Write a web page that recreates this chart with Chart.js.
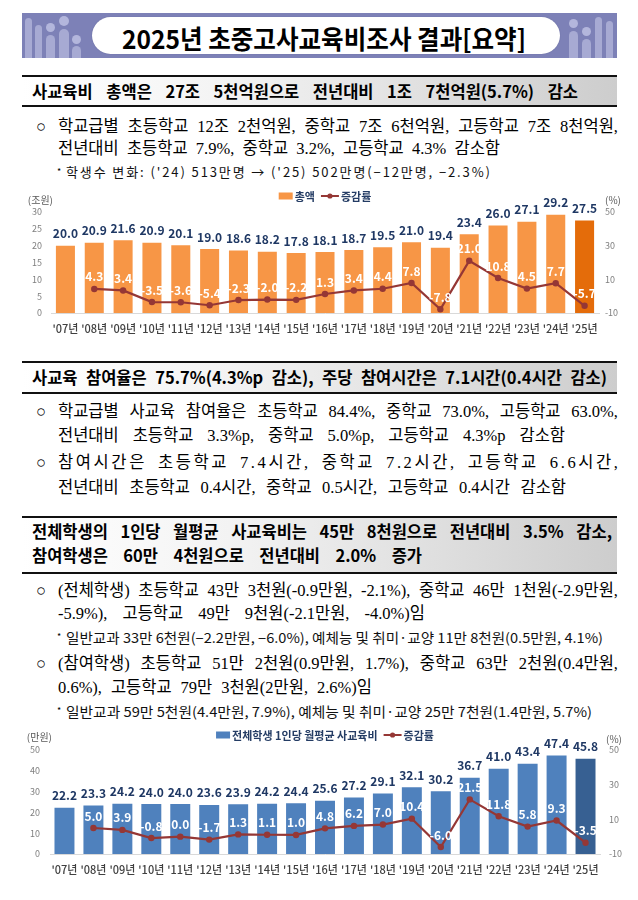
<!DOCTYPE html>
<html><head><meta charset="utf-8">
<script src="https://cdn.jsdelivr.net/npm/chart.js@4.4.1/dist/chart.umd.min.js"></script>
<style>
html,body{margin:0;padding:0;background:#fff;}
body{width:638px;height:900px;position:relative;overflow:hidden;font-family:"Noto Sans CJK KR",sans-serif;color:#000;}
.abs{position:absolute;}
.banner{left:22px;top:13px;width:595px;height:45px;background:#7d81b7;overflow:hidden;}
.deco{position:absolute;background:#a7aad3;border-radius:5px;}
.dot{position:absolute;background:#b3b6dc;border-radius:50%;}
.pill{position:absolute;left:70px;top:4px;width:468px;height:37px;background:#fff;border-radius:19px;box-shadow:0 0 1px #5a5e90;}
.ln{position:absolute;white-space:nowrap;height:20px;line-height:20px;}
.body{font-family:"Liberation Serif","Noto Sans CJK KR",serif;font-size:16.5px;}
.note{font-family:"Noto Sans CJK KR",sans-serif;font-size:13.5px;color:#111;}
.note13{font-family:"Noto Sans CJK KR",sans-serif;font-size:13px;color:#111;}
.star{font-family:"Noto Sans CJK KR",sans-serif;font-size:9px;}
.title{font-weight:700;font-size:26px;height:30px;line-height:30px;}
.hd{position:absolute;left:22px;width:595px;border-top:2px solid #111;border-bottom:2px solid #111;background:linear-gradient(to right,#ffffff 0%,#f3f3f3 35%,#cdcdcd 100%);box-sizing:border-box;}
.hdt{font-weight:700;font-size:16.5px;}
canvas{position:absolute;left:0;}
</style>
</head>
<body>
<div class="abs banner">
  <div class="deco" style="left:3px;top:5px;width:7px;height:44px;"></div>
  <div class="deco" style="left:13px;top:12px;width:7px;height:40px;"></div>
  <div class="dot" style="left:24px;top:10px;width:9px;height:9px;"></div>
  <div class="deco" style="left:24px;top:22px;width:9px;height:30px;border-radius:5px;"></div>
  <div class="dot" style="left:37px;top:3px;width:10px;height:10px;"></div>
  <div class="deco" style="left:37px;top:16px;width:10px;height:34px;"></div>
  <div class="dot" style="left:50px;top:22px;width:9px;height:9px;"></div>
  <div class="deco" style="left:50px;top:33px;width:9px;height:20px;"></div>
  <div class="dot" style="left:547px;top:6px;width:9px;height:9px;"></div>
  <div class="deco" style="left:547px;top:18px;width:9px;height:34px;"></div>
  <div class="dot" style="left:560px;top:14px;width:9px;height:9px;"></div>
  <div class="deco" style="left:560px;top:26px;width:9px;height:26px;"></div>
  <div class="deco" style="left:573px;top:4px;width:7px;height:46px;"></div>
  <div class="deco" style="left:584px;top:8px;width:7px;height:42px;"></div>
  <div class="pill"></div>
</div>
<div class="ln title fit" data-w="404" data-m="sx" style="left:122px;top:23px;">2025년 초중고사교육비조사 결과[요약]</div>

<div class="hd" style="top:75px;height:32px;"></div>
<div class="ln hdt fit" data-w="546" style="left:32px;top:81px;">사교육비 총액은 27조 5천억원으로 전년대비 1조 7천억원(5.7%) 감소</div>

<div class="ln body" style="left:36px;top:117px;">○</div>
<div class="ln body fit" data-w="560" style="left:58px;top:117px;">학교급별 초등학교 12조 2천억원, 중학교 7조 6천억원, 고등학교 7조 8천억원,</div>
<div class="ln body fit" data-w="442" style="left:58px;top:139px;">전년대비 초등학교 7.9%, 중학교 3.2%, 고등학교 4.3% 감소함</div>
<div class="ln star" style="left:57px;top:162px;">*</div>
<div class="ln note13 fit" data-w="424" data-m="ls" style="left:66px;top:162px;">학생수 변화: ('24) 513만명 → ('25) 502만명(−12만명, −2.3%)</div>

<canvas id="c1" width="638" height="152" style="top:188px;"></canvas>

<div class="hd" style="top:361px;height:33px;"></div>
<div class="ln hdt fit" data-w="575" style="left:32px;top:367px;">사교육 참여율은 75.7%(4.3%p 감소), 주당 참여시간은 7.1시간(0.4시간 감소)</div>

<div class="ln body" style="left:36px;top:402px;">○</div>
<div class="ln body fit" data-w="560" style="left:58px;top:402px;">학교급별 사교육 참여율은 초등학교 84.4%, 중학교 73.0%, 고등학교 63.0%,</div>
<div class="ln body fit" data-w="507" style="left:58px;top:426px;">전년대비 초등학교 3.3%p, 중학교 5.0%p, 고등학교 4.3%p 감소함</div>
<div class="ln body" style="left:36px;top:453px;">○</div>
<div class="ln body fit" data-w="560" data-m="mix" style="left:58px;top:453px;">참여시간은 초등학교 7.4시간, 중학교 7.2시간, 고등학교 6.6시간,</div>
<div class="ln body fit" data-w="508" style="left:58px;top:478px;">전년대비 초등학교 0.4시간, 중학교 0.5시간, 고등학교 0.4시간 감소함</div>

<div class="hd" style="top:516px;height:58px;"></div>
<div class="ln hdt fit" data-w="580" style="left:32px;top:521px;">전체학생의 1인당 월평균 사교육비는 45만 8천원으로 전년대비 3.5% 감소,</div>
<div class="ln hdt fit" data-w="390" style="left:32px;top:545px;">참여학생은 60만 4천원으로 전년대비 2.0% 증가</div>

<div class="ln body" style="left:36px;top:581px;">○</div>
<div class="ln body fit" data-w="560" style="left:58px;top:581px;">(전체학생) 초등학교 43만 3천원(-0.9만원, -2.1%), 중학교 46만 1천원(-2.9만원,</div>
<div class="ln body fit" data-w="367" style="left:58px;top:604px;">-5.9%), 고등학교 49만 9천원(-2.1만원, -4.0%)임</div>
<div class="ln star" style="left:57px;top:627px;">*</div>
<div class="ln note fit" data-w="537" data-m="sx" style="left:66px;top:627px;">일반교과 33만 6천원(−2.2만원, −6.0%), 예체능 및 취미·교양 11만 8천원(0.5만원, 4.1%)</div>
<div class="ln body" style="left:36px;top:654px;">○</div>
<div class="ln body fit" data-w="560" style="left:58px;top:654px;">(참여학생) 초등학교 51만 2천원(0.9만원, 1.7%), 중학교 63만 2천원(0.4만원,</div>
<div class="ln body fit" data-w="314" style="left:58px;top:678px;">0.6%), 고등학교 79만 3천원(2만원, 2.6%)임</div>
<div class="ln star" style="left:57px;top:701px;">*</div>
<div class="ln note fit" data-w="526" data-m="sx" style="left:66px;top:701px;">일반교과 59만 5천원(4.4만원, 7.9%), 예체능 및 취미·교양 25만 7천원(1.4만원, 5.7%)</div>

<canvas id="c2" width="638" height="162" style="top:723px;"></canvas>

<script>
// ---------- DATA ----------
const years = ["'07년","'08년","'09년","'10년","'11년","'12년","'13년","'14년","'15년","'16년","'17년","'18년","'19년","'20년","'21년","'22년","'23년","'24년","'25년"];
const totalCost = [20.0,20.9,21.6,20.9,20.1,19.0,18.6,18.2,17.8,18.1,18.7,19.5,21.0,19.4,23.4,26.0,27.1,29.2,27.5];
const totalCostRate = [null,4.3,3.4,-3.5,-3.6,-5.4,-2.3,-2.0,-2.2,1.3,3.4,4.4,7.8,-7.8,21.0,10.8,4.5,7.7,-5.7];
const perStudent = [22.2,23.3,24.2,24.0,24.0,23.6,23.9,24.2,24.4,25.6,27.2,29.1,32.1,30.2,36.7,41.0,43.4,47.4,45.8];
const perStudentRate = [null,5.0,3.9,-0.8,0.0,-1.7,1.3,1.1,1.0,4.8,6.2,7.0,10.4,-6.0,21.5,11.8,5.8,9.3,-3.5];
const chart1Labels = {bar:"총액", line:"증감률", unitLeft:"(조원)", unitRight:"(%)"};
const chart2Labels = {bar:"전체학생 1인당 월평균 사교육비", line:"증감률", unitLeft:"(만원)", unitRight:"(%)"};
const axis1Left = {min:0, max:30, step:5};
const axis2Left = {min:0, max:50, step:10};
const axisRate = {min:-10, max:50, step:20};

// ---------- text fitting ----------
function fitLines(){
  document.querySelectorAll('.fit').forEach(el=>{
    const T = parseFloat(el.dataset.w), mode = el.dataset.m || 'ws';
    const W = el.getBoundingClientRect().width;
    const txt = el.textContent;
    const extra = T - W;
    const n = (txt.match(/ /g) || []).length;
    if (mode === 'sx') { el.style.transformOrigin = 'left center'; el.style.transform = 'scaleX(' + (T / W) + ')'; return; }
    if (mode === 'ls') { el.style.letterSpacing = (extra / (txt.length - 1)) + 'px'; return; }
    if (mode === 'mix') {
      const ls = (extra * 0.8) / (txt.length - 1);
      el.style.letterSpacing = ls + 'px';
      if (n > 0) el.style.wordSpacing = (extra * 0.2 / n) + 'px';
      return;
    }
    if (n > 0) el.style.wordSpacing = (extra / n) + 'px';
  });
}

// ---------- chart ----------
const FONT = "'Noto Sans CJK KR', sans-serif";
const LINE_COLOR = '#953735';

const labelPlugin = {
  id: 'vlabels',
  afterDatasetsDraw(chart, args, o) {
    const ctx = chart.ctx, ca = chart.chartArea;
    let barDs = null, lineDs = null;
    chart.data.datasets.forEach((ds, di) => {
      const meta = chart.getDatasetMeta(di);
      if (ds.type === 'bar') barDs = ds; else lineDs = ds;
      meta.data.forEach((el, i) => {
        const v = ds.data[i];
        if (v === null || v === undefined) return;
        ctx.save();
        ctx.font = 'bold 12px ' + FONT;
        ctx.textAlign = 'center';
        ctx.textBaseline = 'middle';
        if (ds.type === 'bar') { ctx.fillStyle = '#1f3864'; ctx.fillText(v.toFixed(1), el.x, el.y - o.barOff); }
        else { ctx.fillStyle = '#ffffff'; ctx.fillText(v.toFixed(1), el.x, el.y - o.lineOff); }
        ctx.restore();
      });
    });
    // legend
    ctx.save();
    ctx.font = 'bold 11px ' + FONT;
    ctx.textBaseline = 'middle';
    const w0 = ctx.measureText(barDs.label).width, w1 = ctx.measureText(lineDs.label).width;
    const total = 14 + 2 + w0 + 6 + 18 + 2 + w1;
    let x = (ca.left + ca.right) / 2 - total / 2;
    const y = o.legendY;
    ctx.fillStyle = barDs.backgroundColor[0];
    ctx.fillRect(x, y - 3.5, 14, 7);
    x += 16;
    ctx.fillStyle = '#243c64';
    ctx.fillText(barDs.label, x, y + 0.5);
    x += w0 + 6;
    ctx.strokeStyle = LINE_COLOR; ctx.lineWidth = 2;
    ctx.beginPath(); ctx.moveTo(x, y); ctx.lineTo(x + 18, y); ctx.stroke();
    ctx.fillStyle = LINE_COLOR;
    ctx.beginPath(); ctx.arc(x + 9, y, 2.6, 0, Math.PI * 2); ctx.fill();
    x += 20;
    ctx.fillStyle = '#243c64';
    ctx.fillText(lineDs.label, x, y + 0.5);
    // units
    ctx.font = '10px ' + FONT;
    ctx.fillStyle = '#595959';
    ctx.textAlign = 'right';
    ctx.fillText(o.unitLeft, ca.left + 2, o.unitY);
    ctx.textAlign = 'left';
    ctx.fillText(o.unitRight, ca.right + 6, o.unitY + o.unitRightDy);
    ctx.restore();
  }
};

function makeChart(id, c) {
  const n = years.length;
  return new Chart(document.getElementById(id), {
    type: 'bar',
    data: {
      labels: years,
      datasets: [
        { type: 'line', label: c.names.line, data: c.rate, yAxisID: 'y1', order: 0,
          borderColor: LINE_COLOR, backgroundColor: LINE_COLOR, borderWidth: 2.2,
          pointRadius: 3.2, pointHoverRadius: 3.2, pointBorderWidth: 0, pointBackgroundColor: LINE_COLOR,
          tension: 0, clip: false },
        { type: 'bar', label: c.names.bar, data: c.bars, yAxisID: 'y', order: 1,
          backgroundColor: years.map((_, i) => i === n - 1 ? c.dark : c.color),
          barPercentage: c.bp, categoryPercentage: 1 }
      ]
    },
    options: {
      responsive: false, animation: false,
      layout: { padding: { top: c.padTop, left: 0, right: 0, bottom: 0 } },
      plugins: {
        legend: { display: false }, tooltip: { enabled: false },
        vlabels: { barOff: c.barOff, lineOff: c.lineOff, legendY: c.legendY, unitY: c.unitY, unitRightDy: c.unitRightDy,
                   unitLeft: c.names.unitLeft, unitRight: c.names.unitRight }
      },
      scales: {
        x: { grid: { display: false, drawTicks: false }, border: { display: true, color: '#d9d9d9', width: 1 },
             ticks: { padding: c.xPad, color: '#404040', font: { family: FONT, size: 11, weight: '500' }, maxRotation: 0, autoSkip: false },
             afterFit(s) { s.height = c.xH; } },
        y: { position: 'left', min: c.left.min, max: c.left.max,
             grid: { display: false, drawTicks: false }, border: { display: false },
             ticks: { stepSize: c.left.step, padding: c.lPad, color: '#7f7f7f', font: { family: FONT, size: 9 } },
             afterFit(s) { s.width = c.lW; } },
        y1: { position: 'right', min: axisRate.min, max: axisRate.max,
              grid: { display: false, drawTicks: false }, border: { display: false },
              ticks: { stepSize: axisRate.step, padding: c.rPad, color: '#7f7f7f', font: { family: FONT, size: 9 } },
              afterFit(s) { s.width = c.rW; } }
      }
    },
    plugins: [labelPlugin]
  });
}

function build() {
  fitLines();
  makeChart('c1', { names: chart1Labels, bars: totalCost, rate: totalCostRate, left: axis1Left,
    color: '#f79646', dark: '#e46c0a', bp: 0.66, padTop: 24, xH: 27, xPad: 9, lW: 51, rW: 39, lPad: 9, rPad: 6,
    barOff: 12, lineOff: 12, legendY: 8, unitY: 12, unitRightDy: 0 });
  makeChart('c2', { names: chart2Labels, bars: perStudent, rate: perStudentRate, left: axis2Left,
    color: '#4f81bd', dark: '#376092', bp: 0.69, padTop: 27, xH: 31, xPad: 9, lW: 50, rW: 38, lPad: 10, rPad: 9,
    barOff: 12, lineOff: 12, legendY: 12, unitY: 14, unitRightDy: 2 });
}
if (document.fonts && document.fonts.ready) { document.fonts.ready.then(build); } else { build(); }
</script>
</body></html>
